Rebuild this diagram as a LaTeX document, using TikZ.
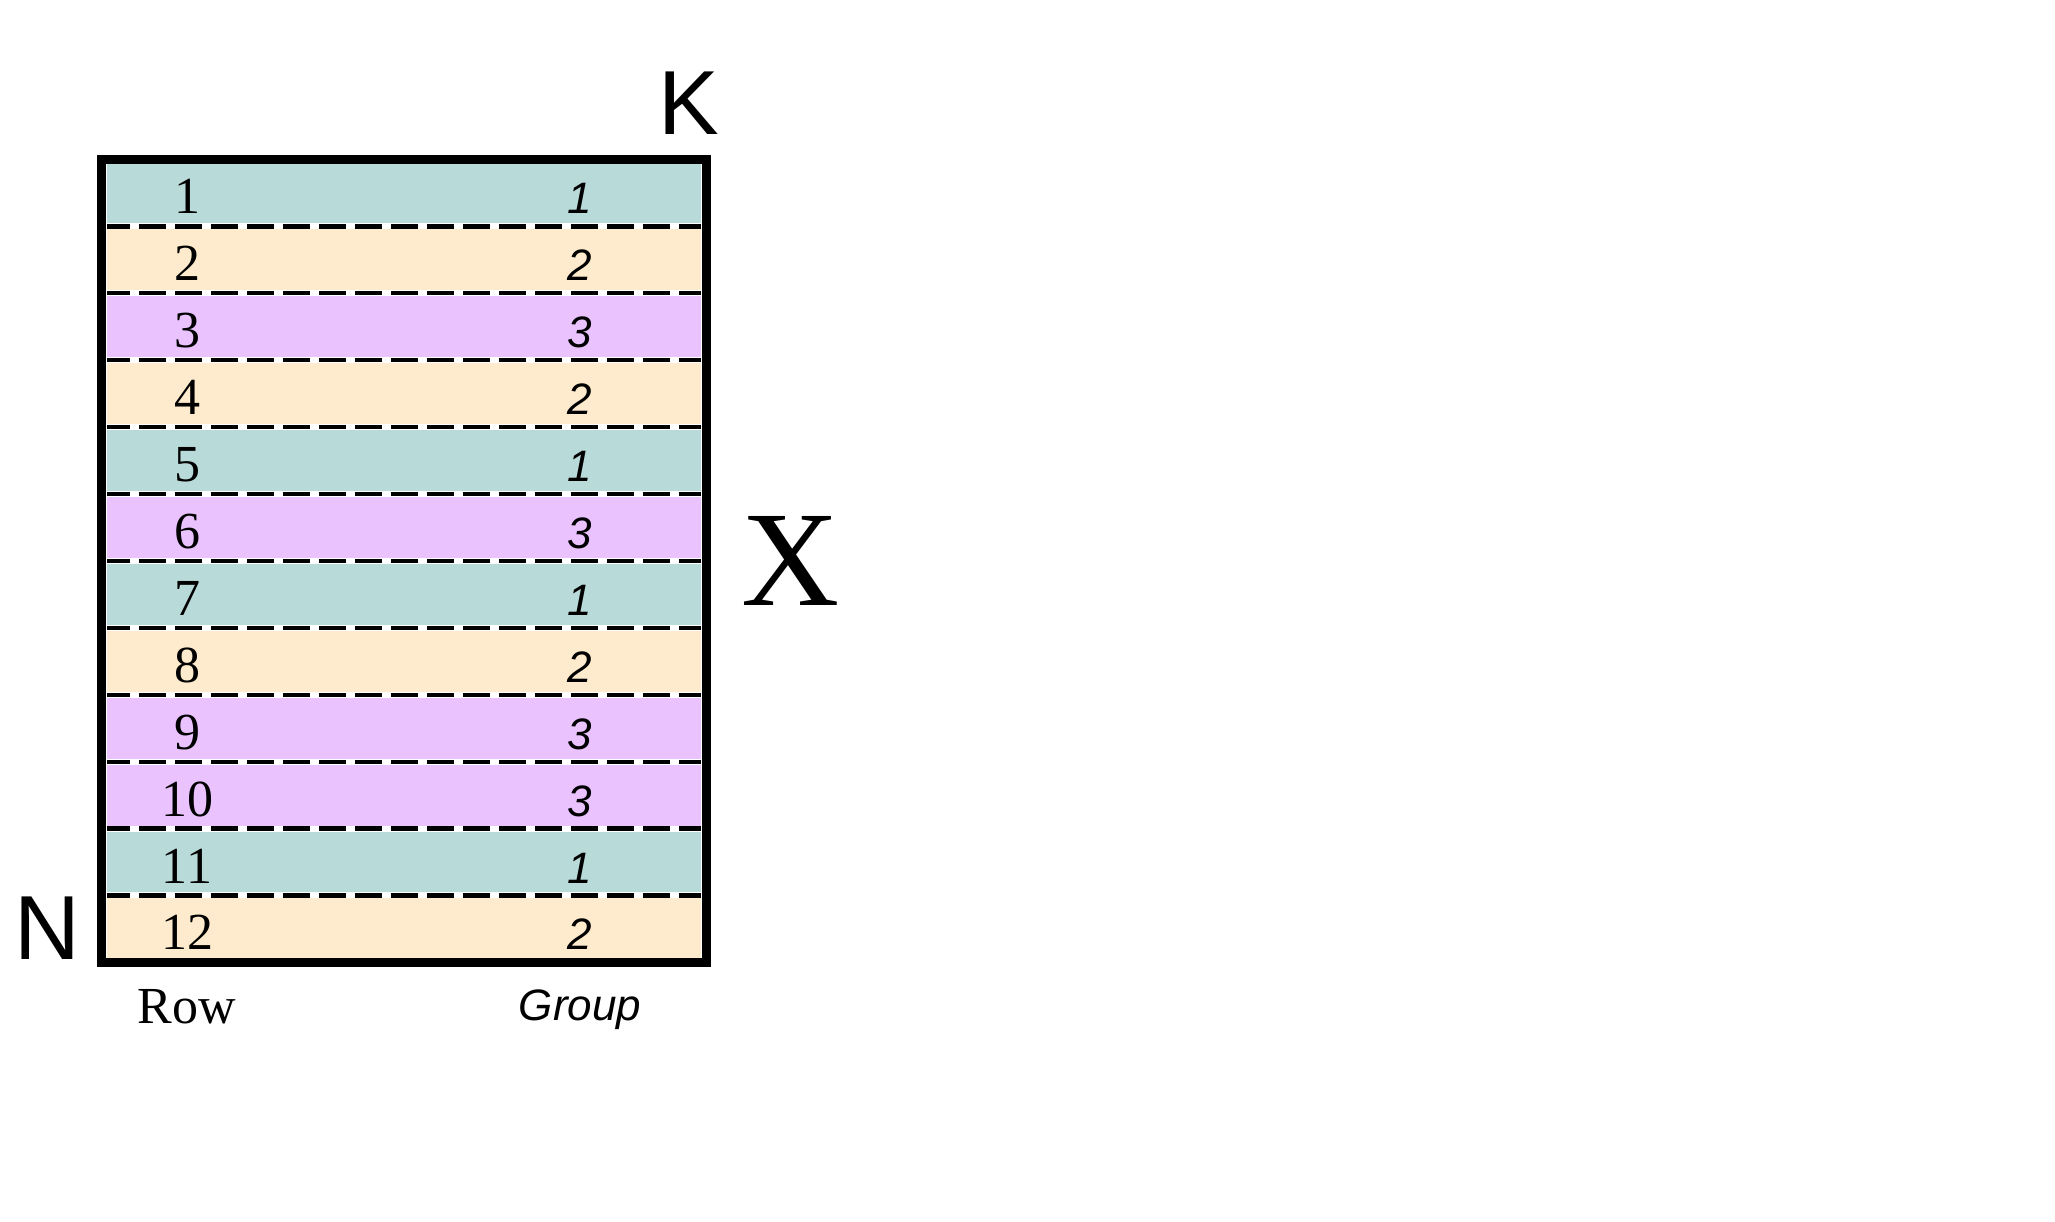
\documentclass[tikz,border=0pt]{standalone}
\usepackage{fontspec}
\setmainfont{Liberation Serif}
\newfontfamily\grpfont{Liberation Sans}
\usepackage{tikz}
\usetikzlibrary{positioning,fit}
\definecolor{grpA}{HTML}{B8DAD8}
\definecolor{grpB}{HTML}{FEEACC}
\definecolor{grpC}{HTML}{EAC2FE}
\tikzset{
  rowbox/.style = {rectangle, inner sep=0pt, outer sep=0pt,
                   minimum width=593.4pt, minimum height=60.9pt},
  rnum/.style   = {anchor=base, inner sep=0pt,
                   font=\fontsize{52}{52}\selectfont},
  gnum/.style   = {anchor=base, inner sep=0pt,
                   font=\grpfont\itshape\fontsize{44}{44}\selectfont},
  sep/.style    = {line width=4.3pt, dash pattern=on 27pt off 9pt,
                   dash phase=4pt},
  frame/.style  = {draw, line width=9pt, inner xsep=6pt, inner ysep=3pt},
  axis/.style   = {inner sep=0pt, font=\grpfont\fontsize{91}{91}\selectfont},
}
\begin{document}
\begin{tikzpicture}[x=1pt, y=-1pt]
\useasboundingbox (0,0) rectangle (2055,1222);

%% Rows
\node[rowbox, fill=grpA] (r1) at (404,193) {};
\node[rowbox, fill=grpB, below=6pt of r1]  (r2)  {};
\node[rowbox, fill=grpC, below=6pt of r2]  (r3)  {};
\node[rowbox, fill=grpB, below=6pt of r3]  (r4)  {};
\node[rowbox, fill=grpA, below=6pt of r4]  (r5)  {};
\node[rowbox, fill=grpC, below=6pt of r5]  (r6)  {};
\node[rowbox, fill=grpA, below=6pt of r6]  (r7)  {};
\node[rowbox, fill=grpB, below=6pt of r7]  (r8)  {};
\node[rowbox, fill=grpC, below=6pt of r8]  (r9)  {};
\node[rowbox, fill=grpC, below=6pt of r9]  (r10) {};
\node[rowbox, fill=grpA, below=6pt of r10] (r11) {};
\node[rowbox, fill=grpB, below=6pt of r11] (r12) {};

%% Row numbers and groups
\node[rnum] (n1)  at ([xshift=-217pt,yshift=-21pt]r1.center)  {1};
\node[gnum] (g1)  at ([xshift=176pt,yshift=-21pt]r1.center)   {1};
\node[rnum] (n2)  at ([xshift=-217pt,yshift=-21pt]r2.center)  {2};
\node[gnum] (g2)  at ([xshift=176pt,yshift=-21pt]r2.center)   {2};
\node[rnum] (n3)  at ([xshift=-217pt,yshift=-21pt]r3.center)  {3};
\node[gnum] (g3)  at ([xshift=176pt,yshift=-21pt]r3.center)   {3};
\node[rnum] (n4)  at ([xshift=-217pt,yshift=-21pt]r4.center)  {4};
\node[gnum] (g4)  at ([xshift=176pt,yshift=-21pt]r4.center)   {2};
\node[rnum] (n5)  at ([xshift=-217pt,yshift=-21pt]r5.center)  {5};
\node[gnum] (g5)  at ([xshift=176pt,yshift=-21pt]r5.center)   {1};
\node[rnum] (n6)  at ([xshift=-217pt,yshift=-21pt]r6.center)  {6};
\node[gnum] (g6)  at ([xshift=176pt,yshift=-21pt]r6.center)   {3};
\node[rnum] (n7)  at ([xshift=-217pt,yshift=-21pt]r7.center)  {7};
\node[gnum] (g7)  at ([xshift=176pt,yshift=-21pt]r7.center)   {1};
\node[rnum] (n8)  at ([xshift=-217pt,yshift=-21pt]r8.center)  {8};
\node[gnum] (g8)  at ([xshift=176pt,yshift=-21pt]r8.center)   {2};
\node[rnum] (n9)  at ([xshift=-217pt,yshift=-21pt]r9.center)  {9};
\node[gnum] (g9)  at ([xshift=176pt,yshift=-21pt]r9.center)   {3};
\node[rnum] (n10) at ([xshift=-217pt,yshift=-21pt]r10.center) {10};
\node[gnum] (g10) at ([xshift=176pt,yshift=-21pt]r10.center)  {3};
\node[rnum] (n11) at ([xshift=-217pt,yshift=-21pt]r11.center) {11};
\node[gnum] (g11) at ([xshift=176pt,yshift=-21pt]r11.center)  {1};
\node[rnum] (n12) at ([xshift=-217pt,yshift=-21pt]r12.center) {12};
\node[gnum] (g12) at ([xshift=176pt,yshift=-21pt]r12.center)  {2};

%% Dashed separators
\draw[sep] ([yshift=-3pt]r1.south west)  -- ([yshift=-3pt]r1.south east);
\draw[sep] ([yshift=-3pt]r2.south west)  -- ([yshift=-3pt]r2.south east);
\draw[sep] ([yshift=-3pt]r3.south west)  -- ([yshift=-3pt]r3.south east);
\draw[sep] ([yshift=-3pt]r4.south west)  -- ([yshift=-3pt]r4.south east);
\draw[sep] ([yshift=-3pt]r5.south west)  -- ([yshift=-3pt]r5.south east);
\draw[sep] ([yshift=-3pt]r6.south west)  -- ([yshift=-3pt]r6.south east);
\draw[sep] ([yshift=-3pt]r7.south west)  -- ([yshift=-3pt]r7.south east);
\draw[sep] ([yshift=-3pt]r8.south west)  -- ([yshift=-3pt]r8.south east);
\draw[sep] ([yshift=-3pt]r9.south west)  -- ([yshift=-3pt]r9.south east);
\draw[sep] ([yshift=-3pt]r10.south west) -- ([yshift=-3pt]r10.south east);
\draw[sep] ([yshift=-3pt]r11.south west) -- ([yshift=-3pt]r11.south east);

%% Frame and axis labels
\node[frame, fit=(r1)(r12)] (box) {};
\node[axis, anchor=base east] (kk) at ([xshift=8pt,yshift=20.5pt]box.north east) {K};
\node[axis, anchor=base east] (nn) at ([xshift=-16.7pt,yshift=7pt]box.south west) {N};
\node[anchor=base west, inner sep=0pt, font=\fontsize{136}{136}\selectfont]
  (xx) at ([xshift=30pt,yshift=-44.8pt]box.east) {X};

\node[rnum] (rowlab) at ([yshift=-74pt]n12.base) {Row};
\node[gnum] (grplab) at ([yshift=-71pt]g12.base) {Group};

\end{tikzpicture}
\end{document}
